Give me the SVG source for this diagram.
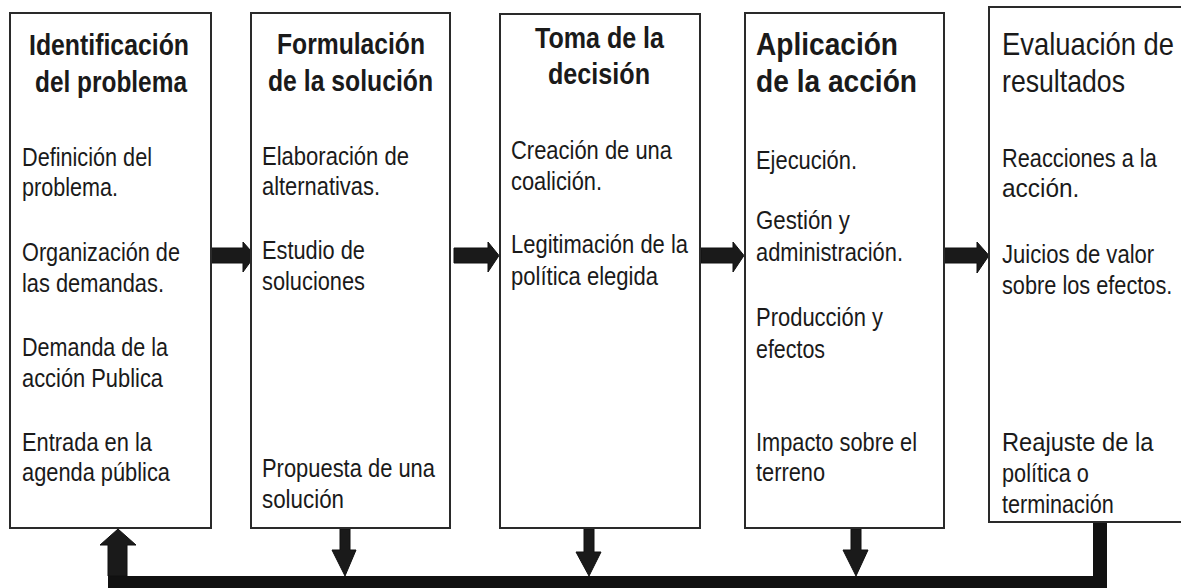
<svg xmlns="http://www.w3.org/2000/svg" width="1181" height="588" viewBox="0 0 1181 588">
<style>
.box{fill:#fff;stroke:#2a2a2a;stroke-width:2}
text{font-family:"Liberation Sans Narrow","Liberation Sans",Arial,sans-serif;fill:#1a1a1a}
.t{font-size:29px;font-weight:bold}
.t4{font-size:32px;font-weight:bold}
.t5{font-size:31px}
.b{font-size:26px}
.ar{fill:#1a1a1a;stroke:#111;stroke-width:1}
</style>
<rect width="1181" height="588" fill="#fff"/>
<g id="connectors">
<path class="ar" d="M211,248 H243 V242 L255,255.5 L243,272 V263 H211 Z"/>
<line x1="256" y1="242" x2="256" y2="270" stroke="#222" stroke-width="1.5"/>
<path class="ar" d="M454,248 H488 V242 L499,255.5 L488,272 V263 H454 Z"/>
<path class="ar" d="M701,248 H733 V242 L744,255.5 L733,272 V263 H701 Z"/>
<path class="ar" d="M944,248 H977 V242 L989,255.5 L977,273 V263 H944 Z"/>
<rect x="108" y="576" width="999" height="14" fill="#111"/>
<path class="ar" d="M108,576 V545 H100 L118,529 L136,545 H127 V576 Z"/>
<path class="ar" d="M340,529 H350 V550 H356 L345,576 L332,550 H340 Z"/>
<path class="ar" d="M584,529 H594 V552 H601 L589,576 L576,552 H584 Z"/>
<path class="ar" d="M851,529 H861 V550 H868 L856,576 L843,550 H851 Z"/>
<rect x="1093" y="522" width="14" height="66" fill="#111"/>
</g>
<g id="n1">
<rect class="box" x="10" y="13" width="201" height="515"/>
<text class="t" x="29" y="55" textLength="160" lengthAdjust="spacingAndGlyphs">Identificación</text>
<text class="t" x="35" y="92" textLength="152" lengthAdjust="spacingAndGlyphs">del problema</text>
<text class="b" x="22" y="166" textLength="130" lengthAdjust="spacingAndGlyphs">Definición del</text>
<text class="b" x="22" y="196" textLength="96" lengthAdjust="spacingAndGlyphs">problema.</text>
<text class="b" x="22" y="261" textLength="158" lengthAdjust="spacingAndGlyphs">Organización de</text>
<text class="b" x="22" y="292" textLength="142" lengthAdjust="spacingAndGlyphs">las demandas.</text>
<text class="b" x="22" y="356" textLength="146" lengthAdjust="spacingAndGlyphs">Demanda de la</text>
<text class="b" x="22" y="387" textLength="141" lengthAdjust="spacingAndGlyphs">acción Publica</text>
<text class="b" x="22" y="451" textLength="130" lengthAdjust="spacingAndGlyphs">Entrada en la</text>
<text class="b" x="22" y="481" textLength="148" lengthAdjust="spacingAndGlyphs">agenda pública</text>
</g>
<g id="n2">
<rect class="box" x="251" y="13" width="199" height="515"/>
<text class="t" x="277" y="54" textLength="148" lengthAdjust="spacingAndGlyphs">Formulación</text>
<text class="t" x="268" y="91" textLength="165" lengthAdjust="spacingAndGlyphs">de la solución</text>
<text class="b" x="262" y="165" textLength="147" lengthAdjust="spacingAndGlyphs">Elaboración de</text>
<text class="b" x="262" y="195" textLength="118" lengthAdjust="spacingAndGlyphs">alternativas.</text>
<text class="b" x="262" y="259" textLength="103" lengthAdjust="spacingAndGlyphs">Estudio de</text>
<text class="b" x="262" y="290" textLength="103" lengthAdjust="spacingAndGlyphs">soluciones</text>
<text class="b" x="262" y="477" textLength="173" lengthAdjust="spacingAndGlyphs">Propuesta de una</text>
<text class="b" x="262" y="508" textLength="82" lengthAdjust="spacingAndGlyphs">solución</text>
</g>
<g id="n3">
<rect class="box" x="500" y="14" width="200" height="514"/>
<text class="t" x="535" y="48" textLength="129" lengthAdjust="spacingAndGlyphs">Toma de la</text>
<text class="t" x="548" y="84" textLength="102" lengthAdjust="spacingAndGlyphs">decisión</text>
<text class="b" x="511" y="159" textLength="161" lengthAdjust="spacingAndGlyphs">Creación de una</text>
<text class="b" x="511" y="190" textLength="91" lengthAdjust="spacingAndGlyphs">coalición.</text>
<text class="b" x="511" y="253" textLength="177" lengthAdjust="spacingAndGlyphs">Legitimación de la</text>
<text class="b" x="511" y="285" textLength="147" lengthAdjust="spacingAndGlyphs">política elegida</text>
</g>
<g id="n4">
<rect class="box" x="745" y="13" width="199" height="515"/>
<text class="t4" x="756" y="55" textLength="142" lengthAdjust="spacingAndGlyphs">Aplicación</text>
<text class="t4" x="756" y="92" textLength="161" lengthAdjust="spacingAndGlyphs">de la acción</text>
<text class="b" x="756" y="169" textLength="101" lengthAdjust="spacingAndGlyphs">Ejecución.</text>
<text class="b" x="756" y="229" textLength="94" lengthAdjust="spacingAndGlyphs">Gestión y</text>
<text class="b" x="756" y="261" textLength="147" lengthAdjust="spacingAndGlyphs">administración.</text>
<text class="b" x="756" y="326" textLength="127" lengthAdjust="spacingAndGlyphs">Producción y</text>
<text class="b" x="756" y="358" textLength="69" lengthAdjust="spacingAndGlyphs">efectos</text>
<text class="b" x="756" y="451" textLength="161" lengthAdjust="spacingAndGlyphs">Impacto sobre el</text>
<text class="b" x="756" y="481" textLength="69" lengthAdjust="spacingAndGlyphs">terreno</text>
</g>
<g id="n5">
<rect class="box" x="989" y="7" width="210" height="515"/>
<text class="t5" transform="translate(1002,55) scale(0.86,1)" textLength="200" lengthAdjust="spacingAndGlyphs">Evaluación de</text>
<text class="t5" transform="translate(1002,92) scale(0.86,1)" textLength="143" lengthAdjust="spacingAndGlyphs">resultados</text>
<text class="b" transform="translate(1002,167) scale(0.86,1)" textLength="180" lengthAdjust="spacingAndGlyphs">Reacciones a la</text>
<text class="b" transform="translate(1002,197) scale(0.86,1)" textLength="90" lengthAdjust="spacingAndGlyphs">acción.</text>
<text class="b" transform="translate(1002,263) scale(0.86,1)" textLength="177" lengthAdjust="spacingAndGlyphs">Juicios de valor</text>
<text class="b" transform="translate(1002,294) scale(0.86,1)" textLength="198" lengthAdjust="spacingAndGlyphs">sobre los efectos.</text>
<text class="b" transform="translate(1002,451) scale(0.86,1)" textLength="176" lengthAdjust="spacingAndGlyphs">Reajuste de la</text>
<text class="b" transform="translate(1002,482) scale(0.86,1)" textLength="101" lengthAdjust="spacingAndGlyphs">política o</text>
<text class="b" transform="translate(1002,513) scale(0.86,1)" textLength="130" lengthAdjust="spacingAndGlyphs">terminación</text>
</g>
</svg>
